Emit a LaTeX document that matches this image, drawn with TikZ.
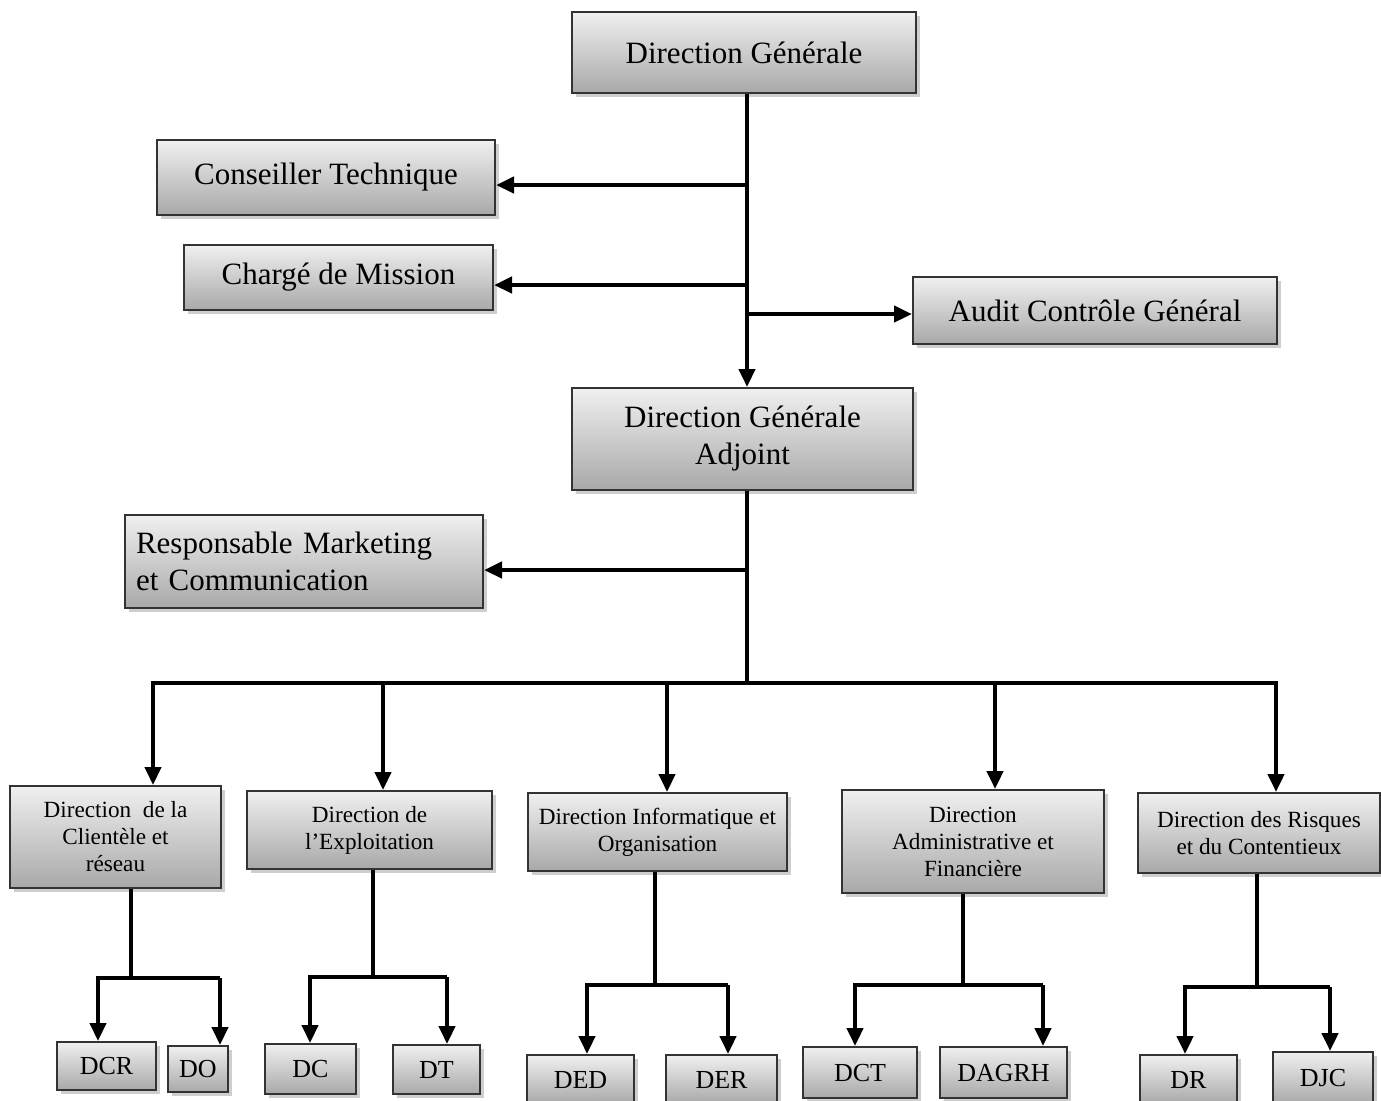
\documentclass[tikz,border=0pt]{standalone}
\usepackage{fontspec}
\setmainfont{Liberation Serif}
\usetikzlibrary{arrows.meta,shadows,calc}
\tikzset{
  box/.style={draw=black!80, line width=1pt, top color=gray!12, bottom color=gray!68,
    shading angle=0, drop shadow={shadow xshift=2pt, shadow yshift=-2pt, fill=gray!55, opacity=0.7},
    inner sep=2pt, align=center, anchor=center},
  big/.style={box, font=\fontsize{15.5}{18.5}\selectfont},
  mid/.style={box, font=\fontsize{11.6}{13.5}\selectfont},
  small/.style={box, font=\fontsize{13}{14}\selectfont},
  ln/.style={line width=2.2pt, black},
  arr/.style={ln, -{Triangle[length=9pt,width=8pt]}},
}
\begin{document}
\begin{tikzpicture}[x=0.5pt,y=-0.5pt]
\useasboundingbox (0,0) rectangle (1381,1100);
% top level
\node[big, minimum width=172pt, minimum height=40.5pt] (dg) at (744,52.5) {Direction Générale};
\node[big, minimum width=169pt, minimum height=37.5pt] (ct) at (326,177.5) {Conseiller Technique};
\node[big, minimum width=154.5pt, minimum height=32.5pt] (cm) at (338.5,277.5) {Chargé de Mission};
\node[big, minimum width=182pt, minimum height=33.5pt] (acg) at (1095,310.5) {Audit Contrôle Général};
\node[big, minimum width=170.5pt, minimum height=51pt] (dga) at (742.5,439) {Direction Générale\\Adjoint};
\node[big, text width=168pt, inner xsep=5.5pt, minimum height=46.5pt, align=left] (rm) at (304,561.5) {Responsable Marketing\\et Communication};
% directions
\node[mid, minimum width=105.5pt, minimum height=51pt] (l1) at (115.5,837) {Direction\ \ de la\\Clientèle et\\réseau};
\node[mid, minimum width=122.5pt, minimum height=39pt] (l2) at (369.5,830) {Direction de\\l’Exploitation};
\node[mid, minimum width=129.5pt, minimum height=39pt] (l3) at (657.5,832) {Direction Informatique et\\Organisation};
\node[mid, minimum width=131pt, minimum height=51.5pt] (l4) at (973,841.5) {Direction\\Administrative et\\Financière};
\node[mid, minimum width=121pt, minimum height=40pt] (l5) at (1259,833) {Direction des Risques\\et du Contentieux};
% bottom
\node[small, minimum width=49.5pt, minimum height=24pt] (dcr) at (106.5,1066) {DCR};
\node[small, minimum width=30pt, minimum height=23pt] (do) at (198,1069) {DO};
\node[small, minimum width=45.5pt, minimum height=25pt] (dc) at (310.5,1069) {DC};
\node[small, minimum width=43.5pt, minimum height=24.5pt] (dt) at (436.5,1069.5) {DT};
\node[small, minimum width=53.5pt, minimum height=24.5pt] (ded) at (580.5,1079.5) {DED};
\node[small, minimum width=55.5pt, minimum height=24.5pt] (der) at (721.5,1079.5) {DER};
\node[small, minimum width=57pt, minimum height=25.5pt] (dct) at (860,1072.5) {DCT};
\node[small, minimum width=63.5pt, minimum height=25.5pt] (dagrh) at (1003.5,1072.5) {DAGRH};
\node[small, minimum width=48.5pt, minimum height=24.5pt] (dr) at (1188.5,1079.5) {DR};
\node[small, minimum width=50pt, minimum height=26pt] (djc) at (1323,1078) {DJC};
% trunk
\coordinate (trunk) at (747,0);
\coordinate (b1) at (747,185);
\coordinate (b2) at (747,285);
\coordinate (b3) at (747,314);
\coordinate (b4) at (747,570);
\draw[arr] (dg.south -| trunk) -- (dga.north -| trunk);
\draw[arr] (b1) -- (b1 -| ct.east);
\draw[arr] (b2) -- (b2 -| cm.east);
\draw[arr] (b3) -- (b3 -| acg.west);
\coordinate (bus) at (747,683);
\draw[ln] (dga.south -| trunk) -- (bus);
\draw[arr] (b4) -- (b4 -| rm.east);
\coordinate (d1) at (153,683);
\coordinate (d2) at (383,683);
\coordinate (d3) at (667,683);
\coordinate (d4) at (995,683);
\coordinate (d5) at (1276,683);
\draw[ln, line cap=rect] (d1) -- (d5);
\draw[arr] (d1) -- (d1 |- l1.north);
\draw[arr] (d2) -- (d2 |- l2.north);
\draw[arr] (d3) -- (d3 |- l3.north);
\draw[arr] (d4) -- (d4 |- l4.north);
\draw[arr] (d5) -- (d5 |- l5.north);
% sub groups
\coordinate (s1) at (131,978); \coordinate (a1) at (98,978); \coordinate (a2) at (220,978);
\draw[ln] (s1 |- l1.south) -- (s1);
\draw[arr] (a2) -- (a1) -- (a1 |- dcr.north);
\draw[arr] (a2) -- (a2 |- do.north);
\coordinate (s2) at (373,977); \coordinate (a3) at (310,977); \coordinate (a4) at (447,977);
\draw[ln] (s2 |- l2.south) -- (s2);
\draw[arr] (a4) -- (a3) -- (a3 |- dc.north);
\draw[arr] (a4) -- (a4 |- dt.north);
\coordinate (s3) at (655,985); \coordinate (a5) at (587,985); \coordinate (a6) at (728,985);
\draw[ln] (s3 |- l3.south) -- (s3);
\draw[arr] (a6) -- (a5) -- (a5 |- ded.north);
\draw[arr] (a6) -- (a6 |- der.north);
\coordinate (s4) at (963,985); \coordinate (a7) at (855,985); \coordinate (a8) at (1043,985);
\draw[ln] (s4 |- l4.south) -- (s4);
\draw[arr] (a8) -- (a7) -- (a7 |- dct.north);
\draw[arr] (a8) -- (a8 |- dagrh.north);
\coordinate (s5) at (1257,987); \coordinate (a9) at (1185,987); \coordinate (a10) at (1330,987);
\draw[ln] (s5 |- l5.south) -- (s5);
\draw[arr] (a10) -- (a9) -- (a9 |- dr.north);
\draw[arr] (a10) -- (a10 |- djc.north);
\end{tikzpicture}
\end{document}
